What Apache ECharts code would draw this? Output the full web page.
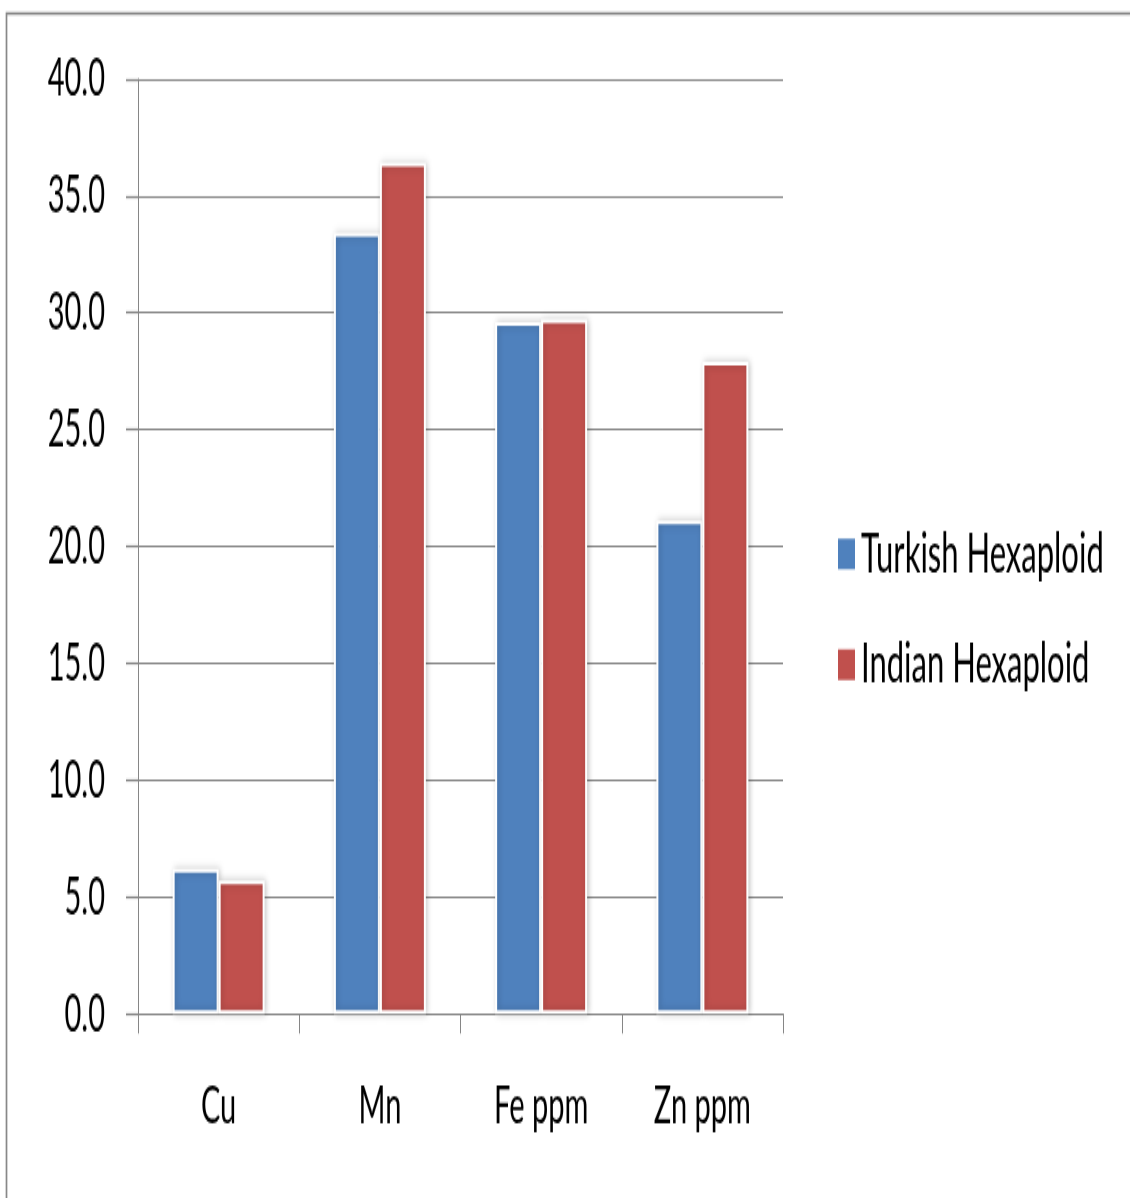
<!DOCTYPE html>
<html>
<head>
<meta charset="utf-8">
<script src="https://cdn.jsdelivr.net/npm/echarts@6/dist/echarts.min.js"></script>
<style>
  html, body { margin: 0; padding: 0; background: #ffffff; overflow: hidden; }
  #wrap { width: 1130px; height: 1198px; position: relative; overflow: hidden; }
  /* the chart is laid out at its natural width and stretched tall */
  #chart { position: absolute; left: 0; top: 0; width: 1130px; height: 665.6px;
           transform: scaleY(1.8); transform-origin: 0 0; }
</style>
</head>
<body>
<div id="wrap"><div id="chart"></div></div>
<script>
// Micronutrient content of hexaploid wheat groups
const categories = ['Cu', 'Mn', 'Fe ppm', 'Zn ppm'];
const turkishHexaploid = [6.2, 33.4, 29.6, 21.1];
const indianHexaploid = [5.7, 36.4, 29.7, 27.9];
const seriesNames = ['Turkish Hexaploid', 'Indian Hexaploid'];
const yTicks = { min: 0, max: 40, interval: 5 };

const SY = 1.8;               // vertical stretch applied by CSS
const FONT = 'Lato';
const GRAY = '#868686';

const chart = echarts.init(document.getElementById('chart'), null, { renderer: 'canvas' });

const barStyle = (color) => ({
  color: color,
  borderColor: '#ffffff',
  borderWidth: 2,
  shadowColor: 'rgba(0,0,0,0.22)',
  shadowBlur: 5,
  shadowOffsetX: 1.5,
  shadowOffsetY: 0
});

chart.setOption({
  animation: false,
  backgroundColor: '#ffffff',
  textStyle: { fontFamily: FONT },
  graphic: [{
    type: 'rect',
    shape: { x: 6.5, y: 13.5 / SY, width: 1300, height: 1000 },
    style: { fill: 'none', stroke: '#888888', lineWidth: 1.7 },
    silent: true
  }],
  grid: {
    left: 138,
    right: 1130 - 783,
    top: 79 / SY,
    bottom: 665.6 - 1013 / SY,
    containLabel: false
  },
  legend: {
    orient: 'vertical',
    left: 836,
    top: 537 / SY - 6,
    padding: 0,
    icon: 'rect',
    itemWidth: 19,
    itemHeight: 19,
    itemGap: 30.5,
    textStyle: { fontFamily: FONT, fontSize: 31, color: '#000000', lineHeight: 20, padding: [0, 0, 0, 0] },
    data: seriesNames
  },
  xAxis: {
    type: 'category',
    data: categories,
    boundaryGap: true,
    axisLine: { show: true, lineStyle: { color: GRAY, width: 1.2 } },
    axisTick: { show: true, alignWithLabel: false, length: 11, lineStyle: { color: GRAY, width: 1 } },
    axisLabel: { fontFamily: FONT, fontSize: 29, color: '#000000', margin: 37 },
    splitLine: { show: false }
  },
  yAxis: {
    type: 'value',
    min: yTicks.min,
    max: yTicks.max,
    interval: yTicks.interval,
    axisLine: { show: true, lineStyle: { color: GRAY, width: 1 } },
    axisTick: { show: true, inside: false, length: 12, lineStyle: { color: GRAY, width: 1.2 } },
    axisLabel: {
      fontFamily: FONT, fontSize: 29, color: '#000000', margin: 33,
      formatter: (v) => v.toFixed(1)
    },
    splitLine: { show: true, lineStyle: { color: GRAY, width: 1.2 } }
  },
  series: [
    {
      name: seriesNames[0],
      type: 'bar',
      data: turkishHexaploid,
      barWidth: 46,
      barGap: '0%',
      itemStyle: barStyle('#4f81bd')
    },
    {
      name: seriesNames[1],
      type: 'bar',
      data: indianHexaploid,
      barWidth: 46,
      barGap: '0%',
      itemStyle: barStyle('#c0504d')
    }
  ]
});
</script>
</body>
</html>
